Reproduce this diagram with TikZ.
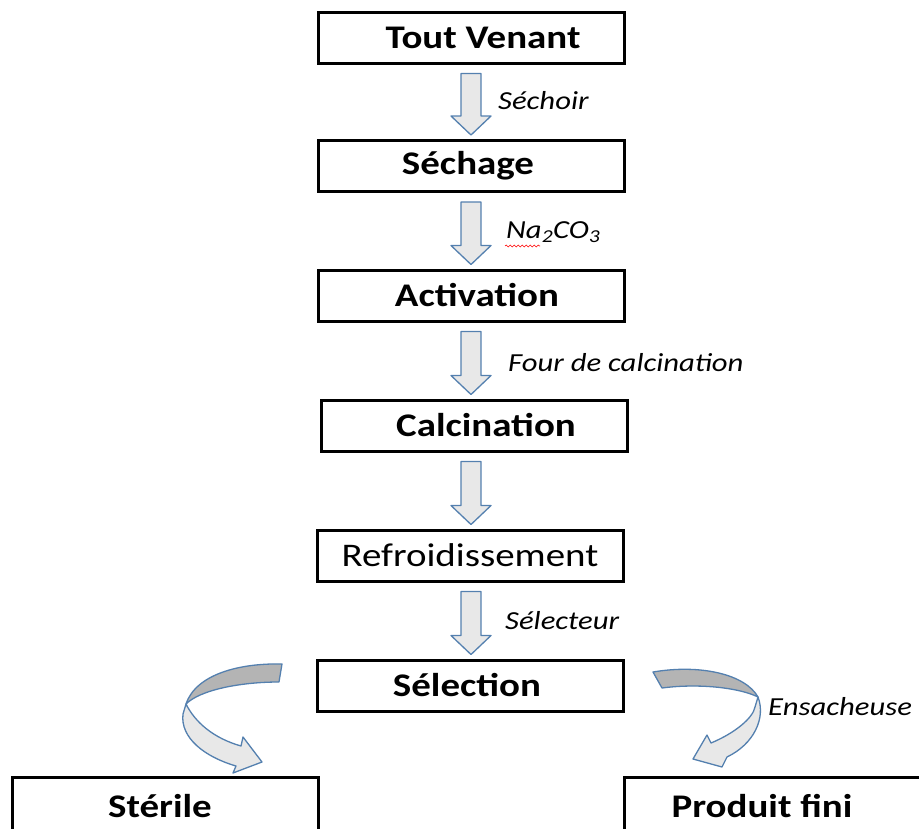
\documentclass[tikz,border=0pt]{standalone}
\usepackage{fontspec}
\setmainfont{Carlito}[FakeStretch=1.18]
\usetikzlibrary{calc,decorations.pathmorphing}
\definecolor{arrowblue}{RGB}{84,128,175}
\definecolor{lightfill}{RGB}{232,232,232}
\definecolor{darkfill}{RGB}{180,180,180}
\newcommand\blockarr[2]{%
  \draw[barrow] ($(#1.south -| ax)+(-10,9)$) -- ($(#2.north -| ax)+(-10,-23)$) -- ($(#2.north -| ax)+(-20,-23)$)
    -- ($(#2.north -| ax)+(0,-4)$) -- ($(#2.north -| ax)+(20,-23)$) -- ($(#2.north -| ax)+(10,-23)$)
    -- ($(#1.south -| ax)+(10,9)$) -- cycle;}
\begin{document}
\begin{tikzpicture}[x=1pt,y=-1pt,
  box/.style={draw=black, line width=3pt, minimum width=306pt, minimum height=51pt,
    inner sep=0pt, fill=white, font=\fontsize{33}{40}\selectfont\bfseries},
  boxtext/.style={inner sep=0pt, font=\fontsize{33}{40}\selectfont\bfseries},
  lbl/.style={anchor=west, inner sep=0pt, font=\fontsize{26}{31}\selectfont\itshape},
  barrow/.style={draw=arrowblue, line width=1.3pt, fill=lightfill, line join=round},
]
\useasboundingbox (0,0) rectangle (919,828);
\clip (0,0) rectangle (919,828);
\coordinate (ax) at (471,0);

\node[box] (tv)   at (471,37.5)  {\hspace*{24pt}Tout Venant};
\node[box] (sech) at (471,166)   {Séchage\hspace*{6pt}};
\node[box] (act)  at (471,295.5) {\hspace*{12pt}Activation};
\node[box] (calc) at (474,425.5) {\hspace*{24pt}Calcination};
\node[box, font=\fontsize{33}{40}\selectfont] (refr) at (470,555.5) {Refroidissement};
\node[box] (sel)  at (470,685.5) {Sélection\hspace*{6pt}};
\node[box, minimum height=70pt] (ster) at (165,812) {};
\node[box, minimum height=70pt] (prod) at (777,812) {};
\node[boxtext] (stert) at (160,806) {Stérile};
\node[boxtext] (prodt) at (762,806) {Produit fini};

\blockarr{tv}{sech}
\blockarr{sech}{act}
\blockarr{act}{calc}
\blockarr{calc}{refr}
\blockarr{refr}{sel}

\node[lbl] (l1) at (498,101) {Séchoir};
\node[lbl] (l2) at (506,232) {Na\textsubscript{2}CO\textsubscript{3}};
\draw[red, line width=0.6pt, decorate, decoration={snake, amplitude=0.9pt, segment length=4pt}]
  (505,246) -- (540,246);
\node[lbl] (l3) at (508,363) {Four de calcination};
\node[lbl] (l4) at (505,621) {Sélecteur};
\node[lbl] (l5) at (768,707) {Ensacheuse};

% left curved arrow (Selection -> Sterile)
\draw[barrow, fill=darkfill] (282,664) .. controls (240,663) and (196,674) .. (186,704)
  .. controls (200,690) and (240,682) .. (279,682) -- cycle;
\draw[barrow] (186,704) .. controls (195,722) and (213,738) .. (241,746) -- (243,737)
  -- (262,762) -- (233,773) -- (236,766) .. controls (205,757) and (180,738) .. (183,714) -- cycle;

% right curved arrow (Selection -> Produit fini)
\draw[barrow, fill=darkfill] (653,672) .. controls (700,664) and (745,674) .. (758,697)
  .. controls (740,688) and (700,683) .. (662,688) -- cycle;
\draw[barrow] (758,697) .. controls (766,718) and (754,744) .. (727,757) -- (722,767)
  -- (693,759) -- (707,735) -- (711,743) .. controls (735,733) and (753,718) .. (755,707) -- cycle;
\end{tikzpicture}
\end{document}
